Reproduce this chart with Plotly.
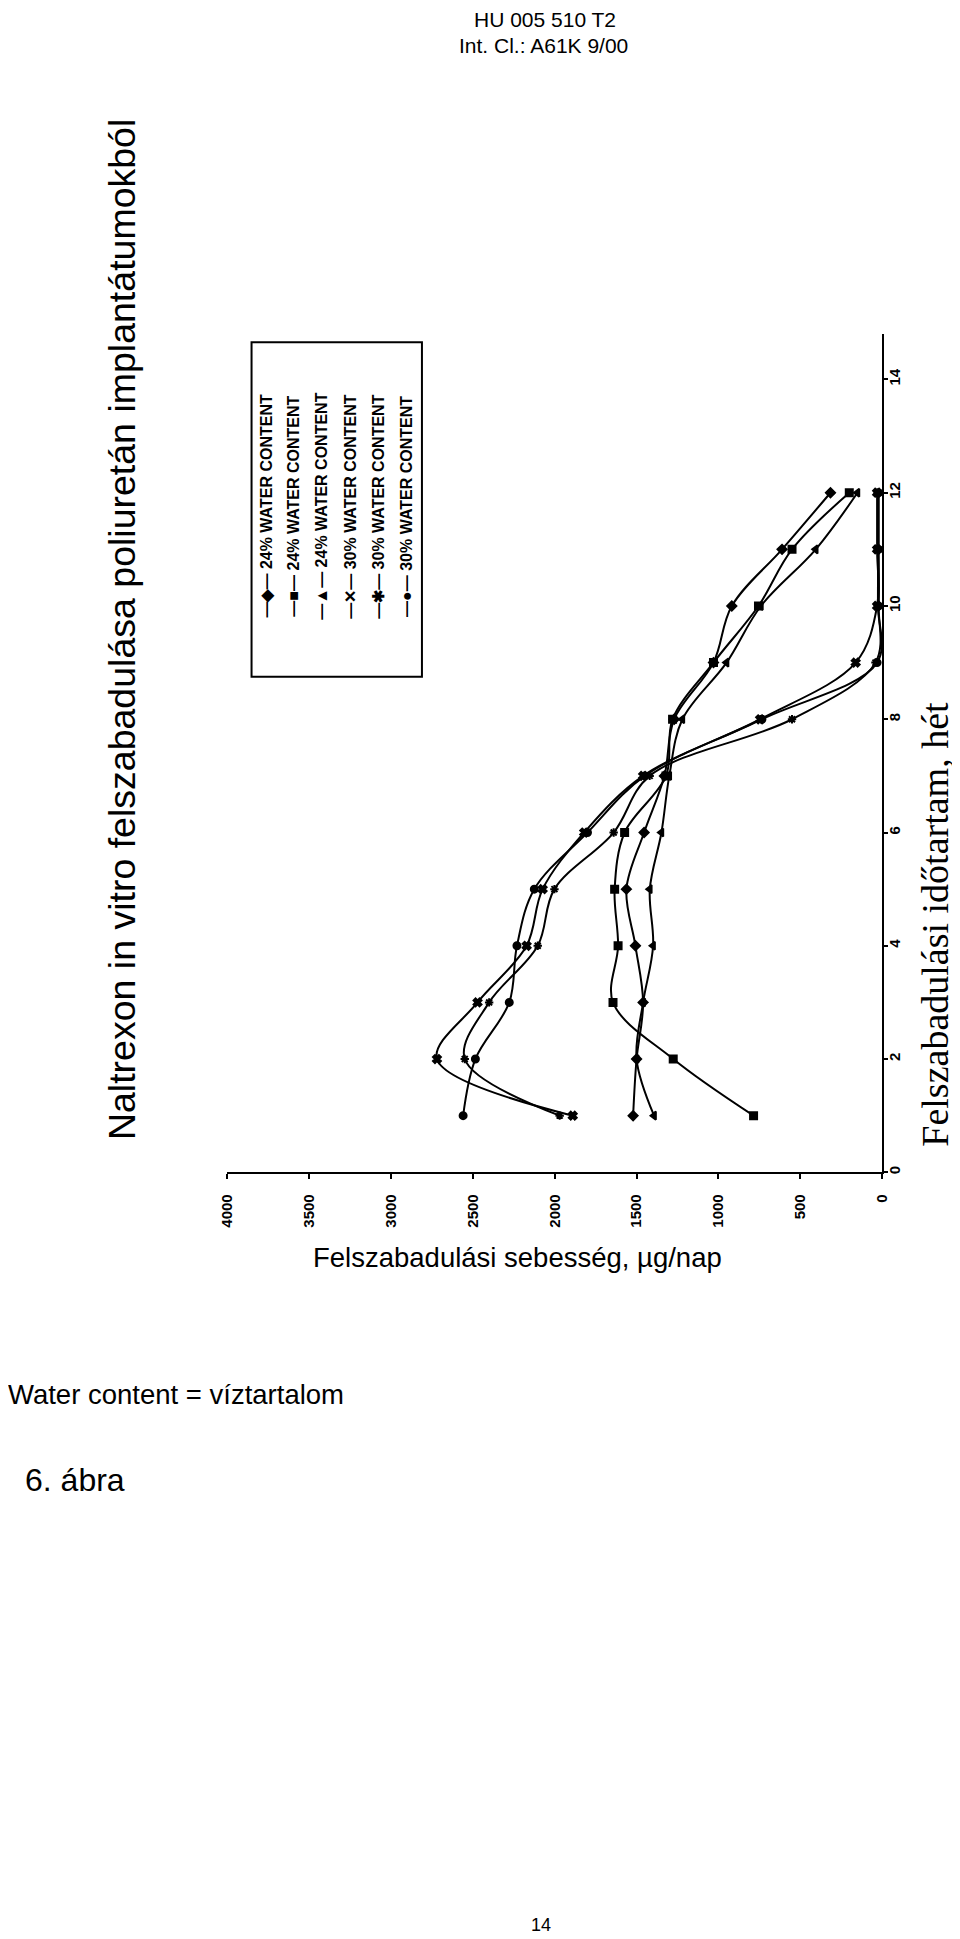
import plotly.graph_objects as go

# ---- data (weeks vs. release rate, ug/day) ----
weeks = [1, 2, 3, 4, 5, 6, 7, 8, 9, 10, 11, 12]

s24_diamond = [1521, 1500, 1460, 1507, 1562, 1454, 1330, 1270, 1030, 918, 611, 315]
s24_square = [785, 1276, 1644, 1613, 1634, 1573, 1320, 1280, 1030, 755, 550, 200]
s24_triangle = [1393, 1500, 1460, 1399, 1419, 1348, 1300, 1220, 950, 740, 405, 150]
s30_x = [1890, 2720, 2472, 2172, 2074, 1820, 1460, 745, 161, 30, 30, 30]
s30_star = [1970, 2550, 2401, 2104, 2002, 1640, 1420, 550, 40, 20, 20, 20]
s30_circle = [2560, 2485, 2278, 2231, 2125, 1800, 1450, 734, 30, 25, 25, 25]

series_names = ["24% WATER CONTENT", "24% WATER CONTENT", "24% WATER CONTENT",
                "30% WATER CONTENT", "30% WATER CONTENT", "30% WATER CONTENT"]
series_values = [s24_diamond, s24_square, s24_triangle, s30_x, s30_star, s30_circle]
series_symbols = ["diamond", "square", "triangle-left", "x", "asterisk-open", "circle"]
legend_glyphs = ["◆", "■", "▲", "✕", "✱", "●"]

rate_ticks = [0, 500, 1000, 1500, 2000, 2500, 3000, 3500, 4000]
week_ticks = [0, 2, 4, 6, 8, 10, 12, 14]

W, H = 960, 1939
# page-pixel -> paper fraction (compensates page offset/scale seen in render)
def px(x):
    return ((x - 19) / 0.98) / W
def py(y):
    return 1 - (y - 7.5) / H

fig = go.Figure()
for name, vals, sym in zip(series_names, series_values, series_symbols):
    fig.add_trace(go.Scatter(
        x=vals, y=weeks, mode="lines+markers", name=name,
        line=dict(color="black", width=2, shape="spline", smoothing=1.0),
        marker=dict(symbol=sym, size=7, color="black",
                    line=dict(color="black", width=2)),
        showlegend=False,
    ))

fig.update_layout(
    width=W, height=H, autosize=False,
    margin=dict(l=0, r=0, t=0, b=0),
    paper_bgcolor="white", plot_bgcolor="white",
    xaxis=dict(
        range=[4000, 0], domain=[px(229), px(882)],
        tickvals=rate_ticks, ticktext=[str(v) for v in rate_ticks],
        tickangle=-90, showline=True, linecolor="black", linewidth=2,
        ticks="outside", ticklen=5, tickcolor="black", tickwidth=2,
        showgrid=False, zeroline=False,
        tickfont=dict(family="Liberation Sans", size=15, color="black", weight="bold"),
        ticklabelstandoff=9,
    ),
    yaxis=dict(
        range=[0, 14.8], domain=[py(1173), py(334)], side="right",
        tickvals=week_ticks, ticktext=[str(v) for v in week_ticks],
        tickangle=-90, showline=True, linecolor="black", linewidth=2,
        ticks="outside", ticklen=4, tickcolor="black", tickwidth=2,
        showgrid=False, zeroline=False,
        tickfont=dict(family="Liberation Sans", size=15, color="black", weight="bold"),
        ticklabelstandoff=-6,
    ),
)

ann = []
def text(x, y, s, size, family="Liberation Sans", angle=0, weight="normal", xanchor="center"):
    ann.append(dict(x=px(x), y=py(y), xref="paper", yref="paper", text=s,
                    showarrow=False, textangle=angle, xanchor=xanchor, yanchor="middle",
                    font=dict(family=family, size=size, color="black", weight=weight)))

text(546, 19, "HU 005 510 T2", 21)
text(544, 45, "Int. Cl.: A61K 9/00", 21)
text(124, 630, "Naltrexon in vitro felszabadulása poliuretán implantátumokból", 37.5, angle=-90)
text(518, 1258, "Felszabadulási sebesség, µg/nap", 27.5)
text(934, 925, "Felszabadulási időtartam, hét", 38, family="Liberation Serif", angle=-90)
text(8, 1395, "Water content = víztartalom", 27.5, xanchor="left")
text(25, 1481, "6. ábra", 32, xanchor="left")
text(542, 1926, "14", 18)

legend_x = [268, 295, 323, 352, 380, 408]
for lx, g, name in zip(legend_x, legend_glyphs, series_names):
    text(lx, 506, "—" + g + "— " + name, 16, angle=-90, weight="bold")

fig.update_layout(annotations=ann)
fig.add_shape(type="rect", xref="paper", yref="paper",
              x0=px(253), x1=px(423), y0=py(677), y1=py(342),
              line=dict(color="black", width=2))

fig.write_html("out.html")
